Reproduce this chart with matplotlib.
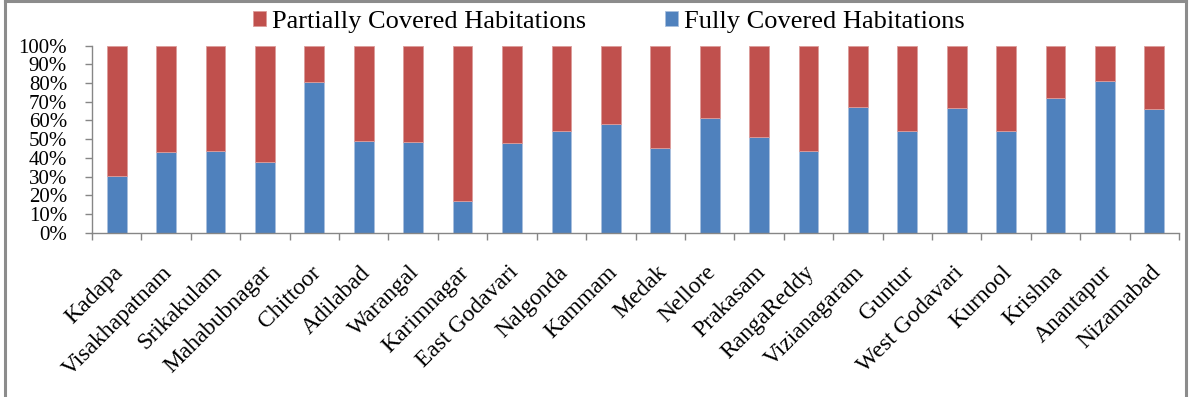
import matplotlib
matplotlib.use("Agg")
import matplotlib.pyplot as plt
import matplotlib.transforms as mtransforms
from matplotlib.lines import Line2D
import numpy as np

districts = ["Kadapa", "Visakhapatnam", "Srikakulam", "Mahabubnagar", "Chittoor",
             "Adilabad", "Warangal", "Karimnagar", "East Godavari", "Nalgonda",
             "Kammam", "Medak", "Nellore", "Prakasam", "RangaReddy", "Vizianagaram",
             "Guntur", "West Godavari", "Kurnool", "Krishna", "Anantapur", "Nizamabad"]
fully_covered = [30.1, 43.1, 43.5, 37.6, 80.7, 48.8, 48.3, 16.8, 47.9, 54.2,
                 57.9, 45.1, 61.3, 51.2, 43.9, 67.0, 54.4, 66.8, 54.4, 72.2, 80.9, 66.0]
partially_covered = [100 - v for v in fully_covered]
yticks = list(range(0, 101, 10))

plt.rcParams["font.family"] = ["Liberation Serif", "DejaVu Serif"]

fig = plt.figure(figsize=(11.89, 3.97), dpi=100)
ax = fig.add_axes([0.0774, 0.4139, 0.9142, 0.4710])

x = np.arange(len(districts))
blue = "#4F81BD"
red = "#C0504D"
b1 = ax.bar(x, fully_covered, width=0.4, color=blue, edgecolor="#a9c0de",
            linewidth=0.6, label="Fully Covered Habitations", zorder=2)
b2 = ax.bar(x, partially_covered, bottom=fully_covered, width=0.4, color=red,
            edgecolor="#dc9c9a", linewidth=0.6, label="Partially Covered Habitations",
            zorder=2)

ax.set_xlim(-0.5, len(districts) - 0.5)
ax.set_ylim(0, 100)
ax.set_yticks(yticks)
ax.set_yticklabels([f"{v}%" for v in yticks], fontsize=15)

# category labels centred under each bar, ticks on category boundaries
ax.set_xticks(x)
ax.set_xticklabels(districts, rotation=45, ha="right", rotation_mode="anchor",
                   fontsize=17)
ax.tick_params(axis="x", which="major", length=0, pad=21)
shift = mtransforms.ScaledTranslation(-4 / 100, 0, fig.dpi_scale_trans)
for lbl in ax.get_xticklabels():
    lbl.set_transform(lbl.get_transform() + shift)
ax.set_xticks(np.arange(-0.5, len(districts), 1.0), minor=True)
ax.tick_params(axis="x", which="minor", length=5, color="#868686", width=1.0,
               direction="out")
ax.tick_params(axis="y", length=5, color="#868686", width=1.0, direction="out", pad=13)

for side in ["top", "right"]:
    ax.spines[side].set_visible(False)
for side in ["left", "bottom"]:
    ax.spines[side].set_color("#868686")
    ax.spines[side].set_linewidth(1.0)

ax.legend(handles=[b2, b1], loc="center", bbox_to_anchor=(0.512, 0.945),
          bbox_transform=fig.transFigure, ncol=2, frameon=False, fontsize=19,
          handlelength=0.5, handleheight=0.5, handletextpad=0.2,
          columnspacing=3.0, borderpad=0.0)

# outer frame (left, top, right edges)
frame_kw = dict(color="#8c8c8c", linewidth=2.2, transform=fig.transFigure)
fig.add_artist(Line2D([0.0038, 0.0038], [0.0, 0.997], **frame_kw))
fig.add_artist(Line2D([0.0038, 0.9975], [0.997, 0.997], **frame_kw))
fig.add_artist(Line2D([0.9975, 0.9975], [0.0, 0.997], **frame_kw))

fig.savefig("out.png", dpi=100)
